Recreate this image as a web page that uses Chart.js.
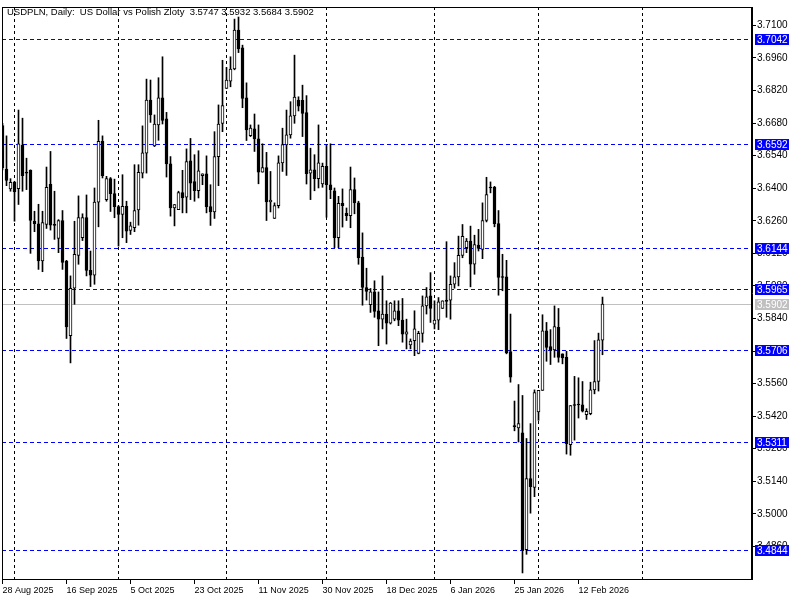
<!DOCTYPE html>
<html>
<head>
<meta charset="utf-8">
<title>USDPLN Daily</title>
<script src="https://cdn.jsdelivr.net/npm/chart.js"></script>
<style>
  body { margin: 0; background: #fff; }
  canvas { display: block; }
</style>
</head>
<body>
<canvas id="chart" width="800" height="600"></canvas>
<script>
// header text, top-left of the plot
const symbolTitle = 'USDPLN, Daily:  US Dollar vs Polish Zloty  3.5747 3.5932 3.5684 3.5902';

// daily OHLC, 28 Aug 2025 .. 19 Feb 2026
const opens = [
  3.6669, 3.6482, 3.6397, 3.6425, 3.6398, 3.6584, 3.6468, 3.6477, 3.6258, 3.6247,
  3.6087, 3.6244, 3.6417, 3.6245, 3.6184, 3.6261, 3.6087, 3.5766, 3.5970, 3.6111,
  3.6187, 3.6274, 3.6047, 3.6026, 3.6340, 3.6601, 3.6351, 3.6441, 3.6377, 3.6321,
  3.6287, 3.6322, 3.6218, 3.6230, 3.6307, 3.6465, 3.6551, 3.6779, 3.6582, 3.6672,
  3.6788, 3.6698, 3.6505, 3.6315, 3.6308, 3.6381, 3.6362, 3.6518, 3.6429, 3.6389,
  3.6454, 3.6462, 3.6321, 3.6298, 3.6536, 3.6679, 3.6829, 3.6860, 3.6913, 3.7080,
  3.7003, 3.6788, 3.6626, 3.6655, 3.6612, 3.6469, 3.6489, 3.6341, 3.6270, 3.6325,
  3.6509, 3.6586, 3.6629, 3.6711, 3.6779, 3.6778, 3.6725, 3.6465, 3.6479, 3.6441,
  3.6418, 3.6494, 3.6415, 3.6389, 3.6187, 3.6335, 3.6292, 3.6282, 3.6394, 3.6337,
  3.6104, 3.5973, 3.5899, 3.5954, 3.5873, 3.5837, 3.5859, 3.5820, 3.5837, 3.5873,
  3.5833, 3.5773, 3.5726, 3.5745, 3.5690, 3.5776, 3.5894, 3.5937, 3.5816, 3.5833,
  3.5883, 3.5919, 3.5919, 3.5987, 3.6019, 3.6111, 3.6144, 3.6173, 3.6073, 3.6156,
  3.6137, 3.6261, 3.6404, 3.6404, 3.6248, 3.6019, 3.6019, 3.5698, 3.5378, 3.5369,
  3.5348, 3.4846, 3.5152, 3.5114, 3.5438, 3.5531, 3.5787, 3.5719, 3.5705, 3.5802,
  3.5688, 3.5673, 3.5298, 3.5469, 3.5469, 3.5469, 3.5426, 3.5431, 3.5533, 3.5569,
  3.5747
];
const highs = [
  3.6679, 3.6625, 3.6441, 3.6430, 3.6736, 3.6701, 3.6529, 3.6479, 3.6301, 3.6331,
  3.6301, 3.6491, 3.6558, 3.6387, 3.6265, 3.6304, 3.6090, 3.6023, 3.6258, 3.6367,
  3.6290, 3.6371, 3.6130, 3.6401, 3.6692, 3.6625, 3.6451, 3.6446, 3.6439, 3.6325,
  3.6458, 3.6344, 3.6254, 3.6501, 3.6501, 3.6668, 3.6869, 3.6865, 3.6715, 3.6875,
  3.6965, 3.6726, 3.6536, 3.6330, 3.6387, 3.6477, 3.6569, 3.6614, 3.6544, 3.6561,
  3.6462, 3.6539, 3.6415, 3.6643, 3.6758, 3.6950, 3.6919, 3.6965, 3.7127, 3.7136,
  3.7015, 3.6853, 3.6672, 3.6719, 3.6672, 3.6591, 3.6554, 3.6472, 3.6337, 3.6539,
  3.6658, 3.6736, 3.6772, 3.6972, 3.6793, 3.6843, 3.6798, 3.6572, 3.6544, 3.6672,
  3.6508, 3.6586, 3.6591, 3.6401, 3.6365, 3.6397, 3.6315, 3.6491, 3.6444, 3.6344,
  3.6208, 3.6056, 3.5969, 3.6002, 3.5954, 3.6023, 3.5916, 3.5909, 3.5916, 3.5916,
  3.5926, 3.5837, 3.5752, 3.5873, 3.5785, 3.5937, 3.5973, 3.6037, 3.5916, 3.5930,
  3.5916, 3.6170, 3.6023, 3.6080, 3.6194, 3.6244, 3.6184, 3.6237, 3.6198, 3.6223,
  3.6337, 3.6447, 3.6427, 3.6408, 3.6304, 3.6116, 3.6090, 3.5859, 3.5485, 3.5556,
  3.5509, 3.5324, 3.5388, 3.5533, 3.5531, 3.5856, 3.5823, 3.5792, 3.5894, 3.5883,
  3.5688, 3.5699, 3.5466, 3.5591, 3.5585, 3.5569, 3.5452, 3.5566, 3.5745, 3.5777,
  3.5932
];
const lows = [
  3.6479, 3.6411, 3.6387, 3.6258, 3.6330, 3.6387, 3.6394, 3.6120, 3.6213, 3.6051,
  3.6041, 3.6227, 3.6220, 3.6180, 3.6123, 3.6051, 3.5754, 3.5649, 3.5901, 3.6073,
  3.6175, 3.6023, 3.5977, 3.5987, 3.6234, 3.6444, 3.6344, 3.6300, 3.6273, 3.6151,
  3.6187, 3.6166, 3.6201, 3.6213, 3.6241, 3.6444, 3.6465, 3.6683, 3.6579, 3.6606,
  3.6676, 3.6448, 3.6280, 3.6238, 3.6308, 3.6294, 3.6294, 3.6351, 3.6344, 3.6358,
  3.6415, 3.6294, 3.6240, 3.6270, 3.6411, 3.6643, 3.6829, 3.6836, 3.6909, 3.6983,
  3.6746, 3.6605, 3.6622, 3.6558, 3.6419, 3.6469, 3.6261, 3.6298, 3.6270, 3.6315,
  3.6472, 3.6455, 3.6615, 3.6679, 3.6732, 3.6622, 3.6418, 3.6351, 3.6389, 3.6401,
  3.6404, 3.6275, 3.6355, 3.6144, 3.6144, 3.6233, 3.6261, 3.6230, 3.6290, 3.6073,
  3.5897, 3.5919, 3.5866, 3.5845, 3.5723, 3.5795, 3.5730, 3.5816, 3.5830, 3.5809,
  3.5738, 3.5709, 3.5709, 3.5680, 3.5688, 3.5738, 3.5859, 3.5823, 3.5795, 3.5792,
  3.5883, 3.5845, 3.5837, 3.5970, 3.5980, 3.6101, 3.6123, 3.5976, 3.6030, 3.6130,
  3.6097, 3.6255, 3.6380, 3.6234, 3.5940, 3.5959, 3.5688, 3.5566, 3.5357, 3.5309,
  3.4746, 3.4826, 3.5003, 3.5074, 3.5402, 3.5531, 3.5656, 3.5642, 3.5673, 3.5652,
  3.5645, 3.5257, 3.5252, 3.5317, 3.5412, 3.5438, 3.5406, 3.5426, 3.5516, 3.5528,
  3.5684
];
const closes = [
  3.6487, 3.6434, 3.6425, 3.6384, 3.6591, 3.6454, 3.6465, 3.6261, 3.6248, 3.6087,
  3.6252, 3.6404, 3.6241, 3.6240, 3.6261, 3.6081, 3.5804, 3.5970, 3.6116, 3.6274,
  3.6274, 3.6047, 3.6026, 3.6340, 3.6601, 3.6454, 3.6441, 3.6377, 3.6321, 3.6287,
  3.6322, 3.6215, 3.6238, 3.6304, 3.6468, 3.6552, 3.6779, 3.6715, 3.6676, 3.6788,
  3.6691, 3.6504, 3.6315, 3.6330, 3.6381, 3.6358, 3.6514, 3.6422, 3.6389, 3.6475,
  3.6462, 3.6321, 3.6298, 3.6536, 3.6676, 3.6755, 3.6865, 3.6912, 3.7080, 3.6999,
  3.6786, 3.6651, 3.6658, 3.6612, 3.6469, 3.6489, 3.6341, 3.6349, 3.6325, 3.6509,
  3.6588, 3.6629, 3.6711, 3.6792, 3.6753, 3.6722, 3.6462, 3.6479, 3.6441, 3.6509,
  3.6494, 3.6415, 3.6394, 3.6187, 3.6335, 3.6325, 3.6282, 3.6394, 3.6337, 3.6101,
  3.5973, 3.5956, 3.5954, 3.5870, 3.5837, 3.5859, 3.5820, 3.5906, 3.5873, 3.5833,
  3.5773, 3.5783, 3.5743, 3.5795, 3.5776, 3.5894, 3.5933, 3.5883, 3.5833, 3.5912,
  3.5916, 3.5913, 3.5987, 3.6019, 3.6111, 3.6193, 3.6173, 3.6073, 3.6158, 3.6141,
  3.6261, 3.6373, 3.6401, 3.6248, 3.6016, 3.6016, 3.5692, 3.5588, 3.5375, 3.5388,
  3.4845, 3.5152, 3.5117, 3.5521, 3.5531, 3.5787, 3.5716, 3.5705, 3.5805, 3.5673,
  3.5670, 3.5302, 3.5465, 3.5466, 3.5468, 3.5442, 3.5441, 3.5533, 3.5569, 3.5748,
  3.5902
];

// bottom axis labels (bar index -> date text)
const dateTickIdx = [0, 16, 32, 48, 64, 80, 96, 112, 128, 144];
const dateTickLabels = ['28 Aug 2025', '16 Sep 2025', '5 Oct 2025', '23 Oct 2025', '11 Nov 2025',
                        '30 Nov 2025', '18 Dec 2025', '6 Jan 2026', '25 Jan 2026', '12 Feb 2026'];
// vertical grid at month starts (bar index)
const monthGridIdx = [3, 29, 56, 81, 108, 134, 160];
// price scale ticks
const priceTicks = [3.4860, 3.5000, 3.5140, 3.5280, 3.5420, 3.5560, 3.5700, 3.5840, 3.5980,
                    3.6120, 3.6260, 3.6400, 3.6540, 3.6680, 3.6820, 3.6960, 3.7100];
// horizontal levels drawn on the chart
const levelLines = [3.7042, 3.6592, 3.6144, 3.5965, 3.5706, 3.5311, 3.4844];
const bidPrice = 3.5902;

const xMin = -0.125, xMax = 187.375;
const yMin = 3.4720, yMax = 3.7179;
const FONT = "'Liberation Sans', Arial, sans-serif";

const wickData = opens.map((o, i) => ({ x: i, y: [lows[i], highs[i]] }));
const bodyData = opens.map((o, i) => ({ x: i, y: [o, closes[i]] }));

// level lines behind the candles, snapped to whole pixels
const levelPlugin = {
    id: 'levelPlugin',
    beforeDatasetsDraw(chart) {
        const { ctx, chartArea: a } = chart;
        const y = chart.scales.y;
        ctx.save();
        ctx.lineWidth = 1;
        const line = (v, color, dash) => {
            const py = Math.round(y.getPixelForValue(v)) + 0.5;
            ctx.strokeStyle = color;
            ctx.setLineDash(dash);
            ctx.beginPath();
            ctx.moveTo(a.left, py);
            ctx.lineTo(a.right, py);
            ctx.stroke();
        };
        line(bidPrice, '#c0c0c0', []);
        levelLines.forEach(v => line(v, '#0000ff', [4, 3]));
        ctx.restore();
    }
};

// frame, header text and the coloured price tags on the right
const mtOverlay = {
    id: 'mtOverlay',
    afterDraw(chart) {
        const { ctx, chartArea: a } = chart;
        const y = chart.scales.y;
        ctx.save();
        ctx.strokeStyle = '#000';
        ctx.lineWidth = 1;
        ctx.strokeRect(a.left + 0.5, a.top + 0.5, a.right - a.left - 1, a.bottom - a.top);

        ctx.font = '9.5px ' + FONT;
        ctx.textAlign = 'left';
        ctx.textBaseline = 'middle';
        ctx.fillStyle = '#000';
        ctx.fillText(symbolTitle, a.left + 5, a.top + 5);

        ctx.font = '10px ' + FONT;
        const tag = (v, bg) => {
            const py = Math.round(y.getPixelForValue(v));
            ctx.fillStyle = bg;
            ctx.fillRect(a.right + 3, py - 5, 34, 11);
            ctx.fillStyle = '#fff';
            ctx.fillText(v.toFixed(4), a.right + 5, py + 1);
        };
        levelLines.forEach(v => tag(v, '#0000ff'));
        tag(bidPrice, '#c0c0c0');
        ctx.restore();
    }
};

new Chart(document.getElementById('chart'), {
    type: 'bar',
    data: {
        datasets: [
            {
                data: wickData,
                backgroundColor: '#000',
                borderWidth: 0,
                barThickness: 1,
                grouped: false,
                order: 2
            },
            {
                data: bodyData,
                backgroundColor: c => {
                    const i = c.dataIndex;
                    const up = closes[i] > opens[i] && closes[i] - opens[i] > 0.0005;
                    return up ? '#fff' : '#000';
                },
                borderColor: '#000',
                borderWidth: 1,
                borderSkipped: false,
                barThickness: 3,
                minBarLength: 1,
                grouped: false,
                order: 1
            }
        ]
    },
    options: {
        responsive: false,
        animation: false,
        events: [],
        devicePixelRatio: 1,
        layout: { padding: { left: 2, top: 5, right: 0, bottom: 0 } },
        plugins: { legend: { display: false }, tooltip: { enabled: false } },
        scales: {
            x: {
                type: 'linear',
                position: 'bottom',
                min: xMin, max: xMax,
                offset: false,
                afterBuildTicks: ax => { ax.ticks = dateTickIdx.map(v => ({ value: v })); },
                afterFit: ax => { ax.height = 21; },
                grid: { drawOnChartArea: false, tickLength: 5, color: '#000', offset: false },
                border: { display: true, color: '#000' },
                ticks: {
                    autoSkip: false, maxRotation: 0, align: 'start', padding: 1,
                    color: '#000', font: { family: FONT, size: 9 },
                    callback: (v, i) => dateTickLabels[i]
                }
            },
            xg: {
                type: 'linear',
                position: 'top',
                min: xMin, max: xMax,
                offset: false,
                afterBuildTicks: ax => { ax.ticks = monthGridIdx.map(v => ({ value: v })); },
                afterFit: ax => { ax.height = 0; },
                grid: { color: '#000', lineWidth: 1, drawTicks: false, offset: false },
                border: { display: false, dash: [3, 3] },
                ticks: { display: false }
            },
            y: {
                type: 'linear',
                position: 'right',
                min: yMin, max: yMax,
                afterBuildTicks: ax => { ax.ticks = priceTicks.map(v => ({ value: v })); },
                afterFit: ax => { ax.width = 48; },
                grid: { drawOnChartArea: false, tickLength: 4, color: '#000' },
                border: { display: true, color: '#000' },
                ticks: {
                    autoSkip: false, padding: 1, color: '#000',
                    font: { family: FONT, size: 10 },
                    callback: v => v.toFixed(4)
                }
            }
        }
    },
    plugins: [levelPlugin, mtOverlay]
});
</script>
</body>
</html>
